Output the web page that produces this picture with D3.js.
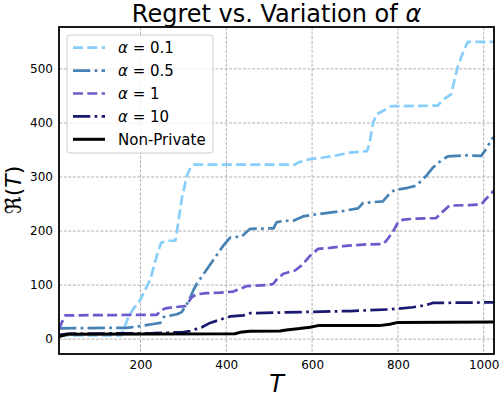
<!DOCTYPE html>
<html>
<head>
<meta charset="utf-8">
<script src="https://cdn.jsdelivr.net/npm/d3@7"></script>
<style>
  body { margin: 0; background: #fff; }
  svg { font-family: "DejaVu Sans", sans-serif; }
</style>
</head>
<body>
<svg id="chart" width="500" height="398"></svg>
<script>
// regret curves, [T, R(T)]
var alpha01 = [[10,7],[155,7],[162,20],[172,42],[185,58],[195,66],[205,82],[223,111],[240,160],[248,178],[258,182],[281,182],[286,205],[296,259],[308,302],[318,320],[325,323],[560,323],[568,327],[595,333],[626,336],[657,340],[688,345],[728,348],[734,363],[742,400],[750,416],[765,422],[784,431],[893,432],[905,443],[924,453],[932,480],[940,505],[951,529],[963,550],[1024,550]];
var alpha05 = [[10,20],[168,21],[199,24],[230,28],[246,30],[254,41],[285,46],[296,50],[312,70],[323,90],[331,102],[358,133],[393,173],[409,188],[436,190],[455,204],[510,205],[517,216],[533,219],[556,219],[579,227],[602,230],[641,234],[672,237],[707,242],[719,252],[765,255],[777,266],[792,276],[823,280],[843,284],[866,302],[881,317],[897,328],[916,338],[959,340],[994,339],[1005,351],[1019,370],[1024,374]];
var alpha1 = [[10,18],[16,30],[25,44],[238,45],[246,52],[258,57],[277,59],[304,61],[313,70],[320,78],[331,83],[354,85],[385,86],[416,88],[432,93],[447,98],[494,100],[509,102],[517,110],[533,121],[560,127],[575,136],[595,154],[614,167],[641,169],[672,172],[719,175],[765,176],[773,182],[788,198],[800,216],[812,221],[843,223],[889,224],[905,236],[920,247],[967,248],[994,249],[1005,259],[1019,271],[1024,275]];
var alpha10 = [[10,8],[30,10],[230,11],[300,13],[316,15],[331,19],[343,22],[362,30],[385,36],[409,42],[440,44],[455,48],[571,50],[688,52],[781,55],[835,59],[858,62],[874,65],[881,67],[1024,68]];
var nonPrivate = [[10,5],[30,9],[420,10],[432,12.6],[455,14.5],[525,15],[540,17],[571,19.5],[595,22],[614,25],[757,25],[781,27.5],[800,31],[1024,31.5]];

var seriesData = [alpha01, alpha05, alpha1, alpha10, nonPrivate];
var seriesAlpha = ["0.1", "0.5", "1", "10", null];
var seriesColor = ["#87cefa", "#4682b4", "#6a5acd", "#191970", "#000000"];
var seriesDash = ["10,4.3", "17.3,4.3,2.7,4.3", "10,4.3", "17.3,4.3,2.7,4.3", null];
var seriesWidth = [2.7, 2.7, 2.7, 2.7, 3];

var xTicks = [200, 400, 600, 800, 1000];
var yTicks = [0, 100, 200, 300, 400, 500];

var margin = {top: 27, right: 6, bottom: 44, left: 59};
var svg = d3.select("#chart");
var width = +svg.attr("width") - margin.left - margin.right;
var height = +svg.attr("height") - margin.top - margin.bottom;

var x = d3.scaleLinear().domain([10, 1024]).range([0, width]);
var y = d3.scaleLinear().domain([-27.5, 577.5]).range([height, 0]);

var g = svg.append("g").attr("transform", "translate(" + margin.left + "," + margin.top + ")");

g.append("defs").append("clipPath").attr("id", "clip")
  .append("rect").attr("width", width).attr("height", height);

// grid
g.append("g")
  .selectAll("line").data(xTicks).enter().append("line")
  .attr("x1", function(d) { return x(d); }).attr("x2", function(d) { return x(d); })
  .attr("y1", 0).attr("y2", height)
  .attr("stroke", "#a8a8a8").attr("stroke-width", 0.9).attr("stroke-dasharray", "3,1.6");
g.append("g")
  .selectAll("line").data(yTicks).enter().append("line")
  .attr("x1", 0).attr("x2", width)
  .attr("y1", function(d) { return y(d); }).attr("y2", function(d) { return y(d); })
  .attr("stroke", "#a8a8a8").attr("stroke-width", 0.9).attr("stroke-dasharray", "3,1.6");

// axes
var xAxis = d3.axisBottom(x).tickValues(xTicks).tickFormat(d3.format("d")).tickSize(0).tickPadding(6);
var yAxis = d3.axisLeft(y).tickValues(yTicks).tickFormat(d3.format("d")).tickSize(0).tickPadding(6);

var gx = g.append("g").attr("transform", "translate(0," + height + ")").call(xAxis);
var gy = g.append("g").call(yAxis);
[gx, gy].forEach(function(a) {
  a.select(".domain").remove();
  a.selectAll("text").attr("font-size", "12px").attr("fill", "#000")
    .attr("font-family", "DejaVu Sans");
});

// curves
var line = d3.line()
  .x(function(d) { return x(d[0]); })
  .y(function(d) { return y(d[1]); });

var curves = g.append("g").attr("clip-path", "url(#clip)");
seriesData.forEach(function(data, i) {
  curves.append("path")
    .datum(data)
    .attr("fill", "none")
    .attr("stroke", seriesColor[i])
    .attr("stroke-width", seriesWidth[i])
    .attr("stroke-dasharray", seriesDash[i])
    .attr("stroke-linejoin", "round")
    .attr("d", line);
});

// frame
g.append("rect")
  .attr("width", width).attr("height", height)
  .attr("fill", "none").attr("stroke", "#000").attr("stroke-width", 1.8);

// legend
var lg = g.append("g").attr("transform", "translate(8,8)");
lg.append("rect")
  .attr("width", 146).attr("height", 118).attr("rx", 3)
  .attr("fill", "#fff").attr("fill-opacity", 0.8)
  .attr("stroke", "#cccccc").attr("stroke-width", 1);
seriesData.forEach(function(data, i) {
  var yy = 12.7 + i * 22.9;
  lg.append("line")
    .attr("x1", 6).attr("x2", 38).attr("y1", yy).attr("y2", yy)
    .attr("stroke", seriesColor[i])
    .attr("stroke-width", seriesWidth[i])
    .attr("stroke-dasharray", seriesDash[i]);
  var t = lg.append("text")
    .attr("x", 51).attr("y", yy + 5.5)
    .attr("font-size", "15px").attr("fill", "#000");
  if (seriesAlpha[i] === null) {
    t.text("Non-Private");
  } else {
    t.append("tspan").attr("font-style", "italic").text("α");
    t.append("tspan").text(" = " + seriesAlpha[i]);
  }
});

// labels
var title = svg.append("text")
  .attr("x", margin.left + width / 2).attr("y", 22)
  .attr("text-anchor", "middle").attr("font-size", "24px").attr("fill", "#000");
title.append("tspan").text("Regret vs. Variation of ");
title.append("tspan").attr("font-style", "italic").text("α");

svg.append("text")
  .attr("x", margin.left + width / 2).attr("y", 392)
  .attr("text-anchor", "middle").attr("font-size", "24px").attr("font-style", "italic")
  .text("T");

var yl = svg.append("text")
  .attr("transform", "translate(21," + (margin.top + 163) + ") rotate(-90)")
  .attr("text-anchor", "middle").attr("font-size", "22px");
yl.append("tspan").text("ℜ(");
yl.append("tspan").attr("font-style", "italic").text("T");
yl.append("tspan").text(")");
</script>
</body>
</html>
